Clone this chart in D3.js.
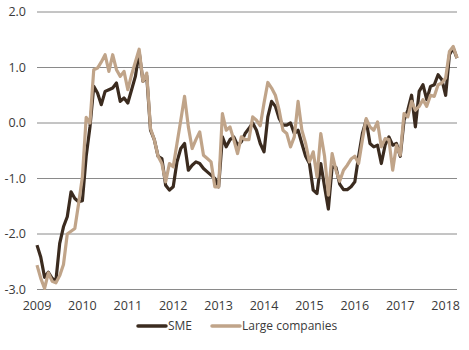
<!DOCTYPE html>
<html>
<head>
<meta charset="utf-8">
<script src="https://cdn.jsdelivr.net/npm/d3@7"></script>
<style>
  body { margin: 0; background: #fff; }
  text { font-family: "Open Sans", "Noto Sans", sans-serif; }
</style>
</head>
<body>
<svg id="chart" width="469" height="350"></svg>
<script>
// monthly readings, Jan 2009 .. Apr 2018
const startYear = 2009;
const sme = [
  -2.2, -2.42, -2.78, -2.69, -2.8, -2.84, -2.17, -1.87, -1.69, -1.24, -1.36, -1.42,
  -1.4, -0.6, -0.07, 0.66, 0.54, 0.33, 0.57, 0.6, 0.63, 0.72, 0.39, 0.45,
  0.36, 0.6, 0.84, 1.28, 0.75, 0.85, -0.13, -0.3, -0.6, -0.64, -1.12, -1.21,
  -1.15, -0.7, -0.46, -0.37, -0.85, -0.76, -0.7, -0.73, -0.82, -0.88, -0.94, -1.0,
  -1.15, -0.25, -0.43, -0.3, -0.25, -0.4, -0.34, -0.19, -0.1, 0.0, -0.13, -0.37,
  -0.52, 0.11, 0.39, 0.3, 0.08, -0.04, -0.04, 0.0, -0.19, -0.13, -0.37, -0.6,
  -0.73, -1.21, -1.27, -0.73, -1.15, -1.55, -0.79, -0.8, -1.1, -1.2, -1.2, -1.15,
  -1.06, -0.6, -0.19, 0.05, -0.37, -0.43, -0.4, -0.73, -0.4, -0.25, -0.4, -0.37,
  -0.6, 0.05, 0.23, 0.5, -0.07, 0.57, 0.69, 0.42, 0.66, 0.69, 0.87, 0.78,
  0.5, 1.23, 1.35, 1.17
];
const large = [
  -2.56, -2.8, -2.98, -2.7, -2.85, -2.88, -2.75, -2.55, -2.0, -1.95, -1.9, -1.45,
  -0.97, 0.1, 0.0, 0.96, 0.99, 1.1, 1.23, 0.93, 1.23, 0.96, 0.84, 0.93,
  0.6, 0.87, 1.1, 1.33, 0.75, 0.9, -0.1, -0.3, -0.6, -0.73, -1.06, -0.73,
  -0.79, -0.37, 0.05, 0.48, -0.07, -0.46, -0.3, -0.16, -0.58, -0.64, -0.7, -1.15,
  -1.15, 0.17, -0.13, -0.07, -0.3, -0.55, -0.25, -0.3, -0.3, 0.11, 0.05, -0.05,
  0.36, 0.73, 0.63, 0.5, 0.23, -0.13, -0.19, -0.43, -0.25, 0.39, -0.13, -0.37,
  -0.7, -0.52, -0.97, -0.19, -0.6, -1.3, -0.55, -0.85, -1.05, -0.85, -0.76, -0.65,
  -0.6, -0.73, -0.3, 0.08, -0.07, -0.13, 0.02, -0.43, -0.28, -0.3, -0.85, -0.4,
  -0.58, 0.17, 0.11, 0.39, 0.23, 0.3, 0.42, 0.3, 0.5, 0.48, 0.69, 0.72,
  0.81, 1.29, 1.38, 1.17
];
const yTicks = [2, 1, 0, -1, -2, -3];
const xTicks = [2009, 2010, 2011, 2012, 2013, 2014, 2015, 2016, 2017, 2018];
const seriesNames = ["SME", "Large companies"];
const colors = ["#3b2b1f", "#c0a489"];

const svg = d3.select("#chart");
const plotLeft = 37, plotRight = 457, plotTop = 12, plotBottom = 289.5;

const x = d3.scaleLinear()
  .domain([startYear, startYear + (sme.length - 1) / 12])
  .range([plotLeft, plotRight]);
const y = d3.scaleLinear().domain([-3, 2]).range([plotBottom, plotTop]);

// grid lines
svg.append("g")
  .selectAll("line")
  .data(yTicks)
  .join("line")
  .attr("x1", plotLeft)
  .attr("x2", plotRight)
  .attr("y1", d => y(d))
  .attr("y2", d => y(d))
  .attr("stroke", "#8a8a8a")
  .attr("stroke-width", 1);

// y labels
svg.append("g")
  .selectAll("text")
  .data(yTicks)
  .join("text")
  .attr("x", 26)
  .attr("y", d => y(d))
  .attr("dy", "0.35em")
  .attr("text-anchor", "end")
  .attr("fill", "#3a3a3a")
  .style("font-size", "12.5px")
  .text(d => d.toFixed(1));

// x labels
svg.append("g")
  .selectAll("text")
  .data(xTicks)
  .join("text")
  .attr("x", d => x(d))
  .attr("y", 310)
  .attr("text-anchor", "middle")
  .attr("fill", "#3a3a3a")
  .style("font-size", "12.5px")
  .text(d => d);

const line = d3.line()
  .x((d, i) => x(startYear + i / 12))
  .y(d => y(d));

// SME drawn underneath, large companies on top
[sme, large].forEach((s, k) => {
  svg.append("path")
    .datum(s)
    .attr("fill", "none")
    .attr("stroke", colors[k])
    .attr("stroke-width", 3.2)
    .attr("stroke-linejoin", "round")
    .attr("d", line);
});

// legend
const legendX = [138, 212];
seriesNames.forEach((name, k) => {
  const g = svg.append("g").attr("transform", `translate(${legendX[k]},326)`);
  g.append("line")
    .attr("x1", 0).attr("x2", 28)
    .attr("stroke", colors[k])
    .attr("stroke-width", 3.5)
    .attr("stroke-linecap", "round");
  g.append("text")
    .attr("x", 30)
    .attr("dy", "0.35em")
    .attr("fill", "#3a3a3a")
    .style("font-size", "12px")
    .text(name);
});
</script>
</body>
</html>
